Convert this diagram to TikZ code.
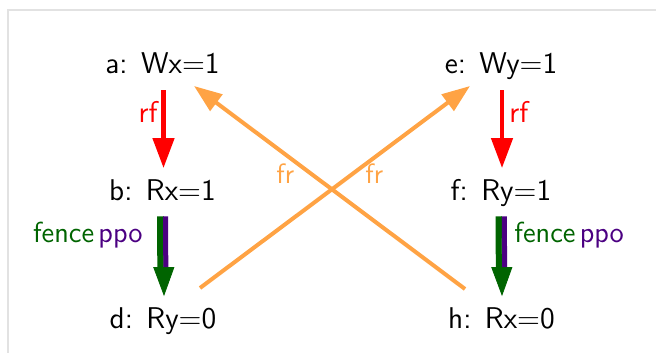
\documentclass[tikz,border=0pt]{standalone}
\usepackage{fontspec}
\usetikzlibrary{arrows.meta,calc}
\definecolor{rfred}{RGB}{255,0,0}
\definecolor{frorange}{RGB}{255,163,68}
\definecolor{fencegreen}{RGB}{0,100,0}
\definecolor{ppopurple}{RGB}{75,0,130}
\definecolor{framegray}{RGB}{226,226,226}
\begin{document}
\begin{tikzpicture}[x=0.5pt,y=-0.5pt,
  ev/.style={font=\fontsize{15}{17}\sffamily, inner xsep=0pt, inner ysep=6pt,
    text height=9.75pt, text depth=2pt, anchor=base},
  lbl/.style={font=\fontsize{14.5}{17}\sffamily, inner sep=0pt},
  frlbl/.style={font=\fontsize{14}{16}\sffamily, inner sep=0pt, text=frorange},
  rfarrow/.style={draw=rfred, line width=2.25pt, -{Triangle[length=15pt,width=10.5pt]}},
  frarrow/.style={draw=frorange, line width=2pt, -{Triangle[length=14pt,width=10pt]}},
  headonly/.style={draw=fencegreen, fill=fencegreen, line width=0.4pt, -{Triangle[length=14.5pt,width=10.5pt]}},
  fenceline/.style={draw=fencegreen, line width=3pt, shorten >=14.5pt},
  ppoline/.style={draw=ppopurple, line width=2.5pt, shorten >=14.5pt}
]
\useasboundingbox (0,0) rectangle (656,352);
\draw[framegray, line width=0.75pt] (8,370) -- (8,10) -- (680,10);

\node[ev] (a) at (162.5,74) {a:\hspace{0.45em}Wx=1};
\node[ev] (b) at (162.5,200) {b:\hspace{0.45em}Rx=1};
\node[ev] (d) at (163,328) {d:\hspace{0.45em}Ry=0};
\node[ev] (e) at (501,74) {e:\hspace{0.45em}Wy=1};
\node[ev] (f) at (501,200) {f:\hspace{0.45em}Ry=1};
\node[ev] (h) at (501.5,328) {h:\hspace{0.45em}Rx=0};

% rf edges
\draw[rfarrow] ([xshift=0.5pt]a.south) -- ([xshift=0.5pt]b.north);
\draw[rfarrow] ([xshift=0.5pt]e.south) -- ([xshift=0.5pt]f.north);
\node[lbl, anchor=base east, text=rfred, font=\fontsize{15}{17}\sffamily] (rf1) at (158,123) {rf};
\node[lbl, anchor=base west, text=rfred, font=\fontsize{15}{17}\sffamily] (rf2) at (509,123) {rf};

% fence / ppo edges
\draw[headonly] ([xshift=0.5pt]b.south) -- ([xshift=0.5pt]d.north);
\draw[fenceline] ([xshift=-1.25pt]b.south) -- ([xshift=-1.25pt]d.north);
\draw[ppoline] ([xshift=1.5pt]b.south) -- ([xshift=1.5pt]d.north);
\draw[headonly] ([xshift=0.25pt]f.south) -- ([xshift=0.25pt]h.north);
\draw[fenceline] ([xshift=-1.25pt]f.south) -- ([xshift=-1.25pt]h.north);
\draw[ppoline] ([xshift=1.65pt]f.south) -- ([xshift=1.65pt]h.north);
\node[lbl, anchor=base east] (fp1) at (143,242) {\textcolor{fencegreen}{fence}\hspace{0.15em}\textcolor{ppopurple}{ppo}};
\node[lbl, anchor=base west] (fp2) at (514,242) {\textcolor{fencegreen}{fence}\hspace{0.15em}\textcolor{ppopurple}{ppo}};

% fr edges
\draw[frarrow] ([shift={(37,-32.25)}]d.center) -- ([shift={(-31,19.75)}]e.center);
\draw[frarrow] ([shift={(-36.5,-31.25)}]h.center) -- ([shift={(31.5,19.75)}]a.center);
\node[frlbl, anchor=base west] (fr1) at (276,183) {fr};
\node[frlbl, anchor=base west] (fr2) at (365,183) {fr};
\end{tikzpicture}
\end{document}
